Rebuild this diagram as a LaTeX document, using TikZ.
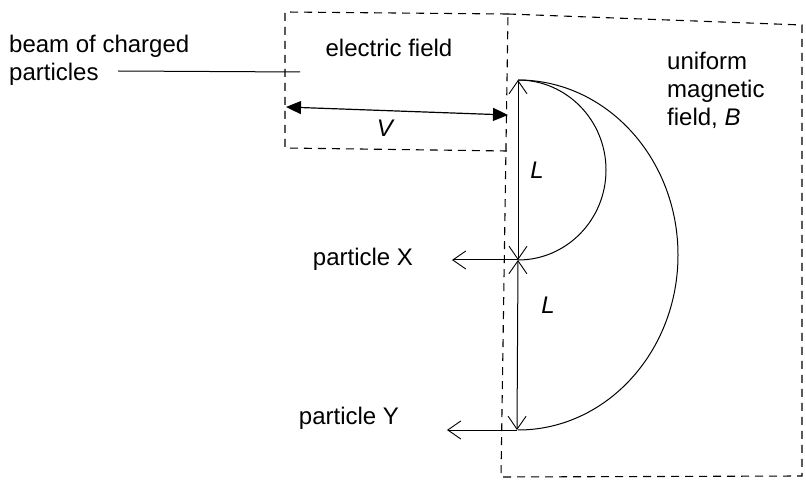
\documentclass[tikz,border=0pt]{standalone}
\usepackage{fontspec}
\setmainfont{Liberation Sans}
\usetikzlibrary{arrows.meta}
\tikzset{
  lbl/.style={inner sep=0pt, font=\fontsize{24}{28}\selectfont},
  dashbox/.style={line width=1.1pt, dash pattern=on 8pt off 6pt},
  thin line/.style={line width=1pt},
  openarrow/.style={-{Straight Barb[length=13pt,width=18pt,line width=0.9pt]}, line width=1pt},
  dblopen/.style={{Straight Barb[length=13pt,width=18pt,line width=0.9pt]}-{Straight Barb[length=13pt,width=18pt,line width=0.9pt]}, line width=1pt},
  dblfilled/.style={{Triangle[length=15pt,width=13pt]}-{Triangle[length=15pt,width=13pt]}, line width=1.2pt}
}
\begin{document}
\begin{tikzpicture}[x=1pt,y=-1pt]
\useasboundingbox (0,0) rectangle (806,486);
% boxes
\draw[dashbox] (508,14) -- (285,12) -- (285,148) -- (507,151);
\draw[dashbox] (508,14) -- (802,25) -- (802,476) -- (501,477) -- cycle;
% coordinates
\coordinate (top) at (518,80);
\coordinate (X) at (518,260);
\coordinate (Y) at (517,430);
\coordinate (beamL) at (118,71);
\coordinate (beamR) at (300,72);
\coordinate (Vl) at (286,107);
\coordinate (Vr) at (508,115);
\coordinate (Xend) at (452,260);
\coordinate (Yend) at (447,430);
% beam line
\draw[thin line] (beamL) -- (beamR);
% V arrow
\draw[dblfilled] (Vl) -- (Vr);
% arcs
\draw[thin line] (top) arc[start angle=90, end angle=-90, x radius=88pt, y radius=90pt];
\draw[thin line] (top) arc[start angle=90, end angle=-90, x radius=160pt, y radius=175pt];
% L arrows
\draw[dblopen] (top) -- (X);
\draw[dblopen] (X) -- (Y);
% particle arrows
\draw[openarrow] (X) -- (Xend);
\draw[openarrow] (Y) -- (Yend);
% labels
\node[lbl, anchor=north west, align=left] (beam) at (9,35) {beam of charged\\particles};
\node[lbl] (ef) at (389,48) {electric field};
\node[lbl] (V) at (385,128) {\itshape V};
\node[lbl, anchor=north west, align=left] (mag) at (667,52) {uniform\\magnetic\\field, \itshape B};
\node[lbl] (L1) at (537,170) {\itshape L};
\node[lbl] (L2) at (548,305) {\itshape L};
\node[lbl] (px) at (363,259) {particle X};
\node[lbl] (py) at (349,418) {particle Y};
\end{tikzpicture}
\end{document}
